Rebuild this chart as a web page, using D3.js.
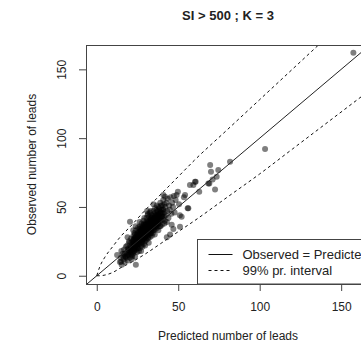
<!DOCTYPE html>
<html>
<head>
<meta charset="utf-8">
<script src="https://cdn.jsdelivr.net/npm/d3@7"></script>
<style>
  body { margin: 0; background: #fff; }
  text { font-family: "Liberation Sans", Arial, sans-serif; fill: #222; }
</style>
</head>
<body>
<svg id="chart" width="361" height="348"></svg>
<script>
// [predicted, observed] number of leads
const leads = [
  [14.2,10],[14.8,13],[15.3,8],[15.9,16],[16.4,12],[16.8,19],[17.1,10],[17.5,14],[17.9,21],[15.1,18],
  [18.2,13],[18.4,17],[18.7,22],[19.0,11],[19.2,19],[19.5,15],[19.8,25],[20.1,18],[20.3,13],[20.6,21],
  [20.9,16],[21.1,27],[21.3,19],[21.5,12],[21.8,23],[21.9,17],[18.9,28],[20.0,24],[21.4,15],[19.6,20],
  [22.0,20],[22.1,25],[22.3,16],[22.5,29],[22.6,22],[22.8,18],[23.0,26],[23.1,31],[23.3,21],[23.5,14],
  [23.6,24],[23.8,28],[24.0,19],[24.1,33],[24.3,23],[24.5,26],[24.6,17],[24.8,30],[25.0,22],[25.1,27],
  [25.3,20],[25.4,35],[25.6,25],[25.7,29],[25.9,18],[22.4,33],[23.9,36],[24.7,21],[25.2,31],[22.9,23],
  [23.4,27],[24.4,29],[25.8,24],[22.7,19],[24.9,25],
  [26.0,23],[26.1,28],[26.2,32],[26.4,20],[26.5,26],[26.6,36],[26.8,30],[26.9,24],[27.0,34],[27.1,27],
  [27.3,22],[27.4,31],[27.5,38],[27.7,29],[27.8,25],[27.9,33],[28.0,21],[28.1,28],[28.3,36],[28.4,31],
  [28.5,26],[28.6,40],[28.8,30],[28.9,23],[29.0,34],[29.1,28],[29.3,38],[29.4,32],[29.5,25],[29.6,30],
  [29.8,35],[29.9,27],[26.3,39],[27.2,18],[27.6,35],[28.2,33],[28.7,27],[29.2,42],[29.7,22],[26.7,29],
  [27.4,26],[28.0,30],[28.9,37],[29.5,33],[26.1,34],
  [30.0,29],[30.1,33],[30.2,38],[30.4,26],[30.5,31],[30.6,42],[30.8,35],[30.9,29],[31.0,40],[31.1,33],
  [31.3,27],[31.4,37],[31.5,45],[31.7,31],[31.8,36],[31.9,24],[32.0,39],[32.1,34],[32.3,43],[32.4,30],
  [32.5,36],[32.6,28],[32.8,41],[32.9,33],[33.0,47],[33.1,37],[33.3,31],[33.4,39],[33.5,35],[33.6,44],
  [33.8,29],[33.9,38],[30.3,36],[31.2,44],[31.6,28],[32.2,37],[32.7,46],[33.2,34],[33.7,40],[30.7,32],
  [31.5,35],[32.0,31],[32.9,39],[33.4,42],[30.9,47],
  [34.0,34],[34.1,38],[34.3,43],[34.4,31],[34.6,36],[34.7,47],[34.9,40],[35.0,33],[35.2,45],[35.3,38],
  [35.5,42],[35.6,30],[35.8,49],[35.9,36],[36.0,41],[36.2,34],[36.3,46],[36.5,39],[36.6,44],[36.8,37],
  [36.9,51],[37.1,42],[37.2,35],[37.4,47],[37.5,40],[37.7,45],[37.8,33],[37.9,50],[34.5,40],[35.4,35],
  [36.1,38],[36.7,48],[37.3,43],[35.7,44],[34.8,52],
  [38.0,38],[38.2,44],[38.4,49],[38.6,36],[38.8,42],[39.0,53],[39.2,46],[39.4,40],[39.6,48],[39.8,43],
  [40.0,37],[40.2,51],[40.4,45],[40.6,41],[40.8,55],[41.0,48],[41.2,43],[41.4,52],[41.6,46],[41.8,40],
  [38.5,47],[39.5,51],[40.5,48],[41.5,38],[39.1,36],
  [42.0,50],[42.4,44],[42.8,53],[43.2,47],[43.6,56],[44.0,42],[44.4,51],[44.8,48],[45.3,57],[45.8,45],
  [46.3,53],[46.8,50],[47.3,58],[47.8,46],[43.0,39],[45.0,30],[47.0,34],[43.0,28],
  [48.4,55],[49.0,58.6],[49.8,61],[50.5,52],[51.1,35.6],[52.1,42.9],[53.5,57],[55.8,49],
  [20.5,17],[21.0,20],[21.7,14],[22.2,23],[22.9,27],[23.2,18],[23.7,22],[24.2,25],[24.8,20],[25.5,28],
  [25.1,24],[26.3,26],[26.8,32],[27.3,29],[27.9,24],[28.4,34],[28.8,28],[29.3,31],[29.7,37],[30.2,31],
  [30.6,35],[31.1,30],[31.5,39],[31.9,34],[32.4,40],[32.8,31],[33.3,36],[33.8,42],[34.2,36],[34.6,33],
  [35.1,40],[35.6,38],[36.1,43],[36.5,36],[37.0,40],[37.6,38],[38.1,41],[38.9,45],[39.7,46],[40.3,43],
  [21.2,24],[22.6,26],[23.5,30],[24.6,27],[25.7,32],[26.5,30],[27.5,33],[28.3,29],[29.0,27],[29.9,32],
  [30.8,38],[31.7,33],[32.6,35],[33.5,33],[34.3,39],[35.3,41],[36.4,41],[37.4,44],[38.3,40],[39.3,43],
  [23.0,20],[24.0,23],[25.0,26],[26.0,27],[27.0,31],[28.0,32],[29.0,31],[30.0,34],[31.0,35],[32.0,36],
  [33.0,38],[34.0,41],[35.0,37],[36.0,39],[27.6,28],[28.6,35],[30.4,30],[31.4,32],[32.3,33],[33.9,35],
  [19.5,17],[18.8,15],[17.2,16],[16.2,14],[20.8,19],
  [20.4,39.2],[40.9,58.6],[41.9,57.4],[54.2,58.6],[56.2,49],[57.2,66],[59.3,65.9],[60.3,68.3],[60.7,68.3],
  [62.9,61],[68.5,67.1],[69.1,67.1],[69.6,80.5],[70.1,75.6],[71.1,70],[72.6,62.7],[73.6,72],[74.6,76.8],
  [81.8,82.9],[103.3,92.2],[157.5,162],[51,44],[14.9,10.2],[18,13.8],[46,37],[24,8],[12.5,15]
];

// 99% prediction interval
const bandX     = [0, 2, 5, 10, 15, 20, 30, 40, 50, 60, 80, 100, 120, 140, 160, 170];
const bandUpper = [0, 7, 13.5, 21.5, 29, 35, 48, 60, 72, 84, 106, 128, 150, 172, 194, 205];
const bandLower = [0, 0, 0.5, 2.5, 6, 9, 16, 24, 32, 40, 57, 74, 92, 110, 128, 137];

const xTicks = [0, 50, 100, 150];
const yTicks = [0, 50, 100, 150];
const legendLabels = ["Observed = Predicted", "99% pr. interval"];

const margin = {top: 45, right: -9, bottom: 64, left: 86};
const width = 361, height = 348;

const svg = d3.select("#chart");

const x = d3.scaleLinear()
    .domain([-6.6, 167.7])
    .range([margin.left, width - margin.right]);

const y = d3.scaleLinear()
    .domain([-6, 167.7])
    .range([height - margin.bottom, margin.top]);

svg.append("clipPath")
    .attr("id", "plot-area")
  .append("rect")
    .attr("x", margin.left)
    .attr("y", margin.top)
    .attr("width", x.range()[1] - margin.left)
    .attr("height", y.range()[0] - margin.top);

const plot = svg.append("g").attr("clip-path", "url(#plot-area)");

plot.append("g")
    .selectAll("circle")
    .data(leads)
    .enter().append("circle")
      .attr("cx", d => x(d[0]))
      .attr("cy", d => y(d[1]))
      .attr("r", 3)
      .attr("fill", "#000")
      .attr("fill-opacity", 0.5);

// Observed = Predicted
plot.append("line")
    .attr("x1", x(x.domain()[0]))
    .attr("y1", y(x.domain()[0]))
    .attr("x2", x(x.domain()[1]))
    .attr("y2", y(x.domain()[1]))
    .attr("stroke", "#222")
    .attr("stroke-width", 1);

const band = [bandUpper, bandLower];
plot.append("g")
    .selectAll("path")
    .data(band)
    .enter().append("path")
      .attr("fill", "none")
      .attr("stroke", "#111")
      .attr("stroke-width", 1)
      .attr("stroke-dasharray", "3,3")
      .attr("d", vals => d3.line()
          .x((d, i) => x(bandX[i]))
          .y(d => y(d))
          .curve(d3.curveMonotoneX)(vals));

// axes, R style: outward ticks, line from first to last tick
const xAxis = svg.append("g")
    .attr("transform", `translate(0, ${y.range()[0]})`)
    .call(d3.axisBottom(x).tickValues(xTicks).tickSize(7).tickFormat(d3.format("d")));
xAxis.select(".domain").remove();
xAxis.selectAll("line").attr("stroke", "#444");
xAxis.selectAll("text")
    .attr("y", 27).attr("dy", 0)
    .style("font-size", "12px")
    .style("font-family", "'Liberation Sans', Arial, sans-serif")
    .attr("fill", "#222");

const yAxis = svg.append("g")
    .attr("transform", `translate(${margin.left}, 0)`)
    .call(d3.axisLeft(y).tickValues(yTicks).tickSize(7).tickFormat(d3.format("d")));
yAxis.select(".domain").remove();
yAxis.selectAll("line").attr("stroke", "#444");
yAxis.selectAll("text")
    .attr("transform", "rotate(-90)")
    .attr("x", 0).attr("y", -20).attr("dy", 0)
    .attr("text-anchor", "middle")
    .style("font-size", "12px")
    .style("font-family", "'Liberation Sans', Arial, sans-serif")
    .attr("fill", "#222");

// plot box
svg.append("rect")
    .attr("x", margin.left + 0.5)
    .attr("y", margin.top + 0.5)
    .attr("width", x.range()[1] - margin.left)
    .attr("height", y.range()[0] - margin.top)
    .attr("fill", "none")
    .attr("stroke", "#444");

// legend, bottom right
const legend = svg.append("g").attr("transform", "translate(197.5, 239.5)");
legend.append("rect")
    .attr("width", 200)
    .attr("height", 44.5)
    .attr("fill", "#fff")
    .attr("stroke", "#444");
legend.selectAll("line")
    .data(legendLabels)
    .enter().append("line")
      .attr("x1", 11).attr("x2", 35)
      .attr("y1", (d, i) => 15 + i * 16)
      .attr("y2", (d, i) => 15 + i * 16)
      .attr("stroke", "#111")
      .attr("stroke-dasharray", (d, i) => i ? "3,3" : null);
legend.selectAll("text")
    .data(legendLabels)
    .enter().append("text")
      .attr("x", 45)
      .attr("y", (d, i) => 19.5 + i * 16)
      .style("font-size", "13px")
      .text(d => d);

svg.append("text")
    .attr("x", 228).attr("y", 19.5)
    .attr("text-anchor", "middle")
    .style("font-size", "13px")
    .style("font-weight", "bold")
    .text("SI > 500 ; K = 3");

svg.append("text")
    .attr("x", 228).attr("y", 340)
    .attr("text-anchor", "middle")
    .style("font-size", "12px")
    .text("Predicted number of leads");

svg.append("text")
    .attr("transform", "translate(36, 164.5) rotate(-90)")
    .attr("text-anchor", "middle")
    .style("font-size", "12px")
    .text("Observed number of leads");
</script>
</body>
</html>
